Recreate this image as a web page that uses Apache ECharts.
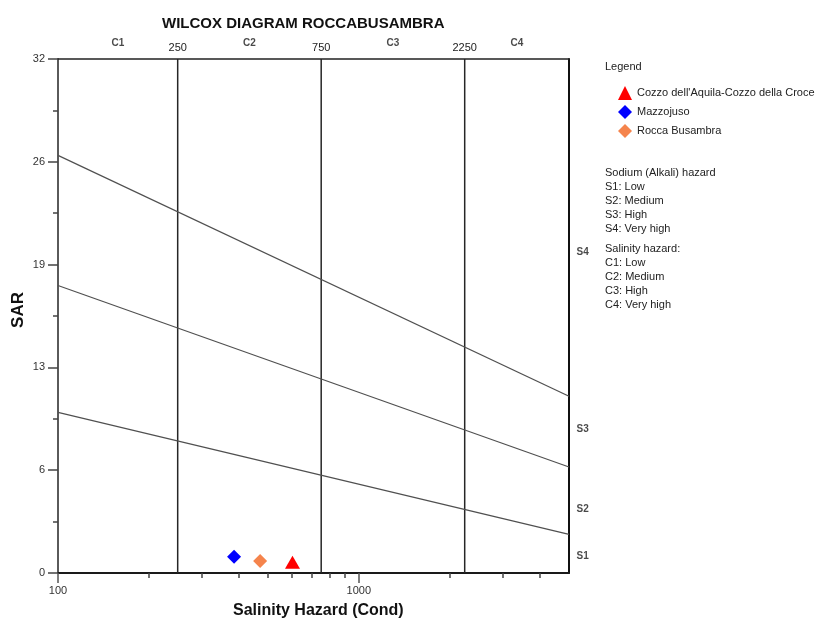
<!DOCTYPE html>
<html>
<head>
<meta charset="utf-8">
<title>Wilcox diagram Roccabusambra</title>
<script src="https://cdn.jsdelivr.net/npm/echarts@6/dist/echarts.min.js"></script>
<style>
  html, body { margin: 0; padding: 0; background: #fff; }
  #chart { width: 826px; height: 621px; }
</style>
</head>
<body>
<div id="chart"></div>
<script>
// Conductivity range of the diagram (log scale) and SAR range
const condRange = [100, 5000];
const sarRange = [0, 32];

// Salinity class boundaries and class names
const salinityBounds = [250, 750, 2250];
const salinityClasses = ['C1', 'C2', 'C3', 'C4'];

// Sodium hazard boundary lines: SAR at the left (100) and right (5000) ends
const sodiumLeftSar = [10, 17.9, 26];
const sodiumRightSar = [2.4, 6.6, 11];
const sodiumClasses = ['S1', 'S2', 'S3', 'S4'];
const sodiumLabelSar = [1.05, 4, 8.95, 19.95];

// Water samples
const sampleNames = ["Cozzo dell'Aquila-Cozzo della Croce", 'Mazzojuso', 'Rocca Busambra'];
const sampleCond = [602, 385, 470];
const sampleSar = [0.67, 1.01, 0.75];
const sampleColors = ['#ff0000', '#0000ff', '#f5844c'];
const sampleSymbols = ['triangle', 'diamond', 'diamond'];
const sampleSizes = [[15, 13], [14, 14], [14, 14]];

// Axis ticks
const majorCondTicks = [100, 1000];
const minorCondTicks = [200, 300, 400, 500, 600, 700, 800, 900, 2000, 3000, 4000];

const FONT = 'Liberation Sans, Arial, sans-serif';
const chart = echarts.init(document.getElementById('chart'));

// Class label positions: geometric centre of each salinity class
const edges = [condRange[0]].concat(salinityBounds, [condRange[1]]);
const classCentres = salinityClasses.map((c, i) => Math.sqrt(edges[i] * edges[i + 1]));

const series = [];

// Salinity class boundaries
salinityBounds.forEach(b => {
  series.push({
    type: 'line', silent: true, symbol: 'none', xAxisIndex: 0, yAxisIndex: 0,
    lineStyle: { color: '#262626', width: 1.5 },
    data: [[b, sarRange[0]], [b, sarRange[1]]]
  });
});

// Sodium hazard boundaries
sodiumLeftSar.forEach((s, i) => {
  series.push({
    type: 'line', silent: true, symbol: 'none', xAxisIndex: 0, yAxisIndex: 0,
    lineStyle: { color: '#505050', width: 1.2 },
    data: [[condRange[0], s], [condRange[1], sodiumRightSar[i]]]
  });
});

// S1..S4 labels beyond the right edge
series.push({
  type: 'scatter', silent: true, symbolSize: 1, clip: false,
  itemStyle: { color: 'rgba(0,0,0,0)' },
  label: { show: true, position: 'right', distance: 7, formatter: p => p.name,
           fontFamily: FONT, fontSize: 10, fontWeight: 'bold', color: '#1a1a1a' },
  data: sodiumClasses.map((n, i) => ({ name: n, value: [condRange[1], sodiumLabelSar[i]] }))
});

// C1..C4 labels above the plot
series.push({
  type: 'scatter', silent: true, symbolSize: 1, clip: false,
  itemStyle: { color: 'rgba(0,0,0,0)' },
  label: { show: true, position: 'top', distance: 10, formatter: p => p.name,
           fontFamily: FONT, fontSize: 10, fontWeight: 'bold', color: '#1a1a1a' },
  data: salinityClasses.map((n, i) => ({ name: n, value: [classCentres[i], sarRange[1]] }))
});

// Samples
sampleNames.forEach((n, i) => {
  series.push({
    name: n, type: 'scatter', symbol: sampleSymbols[i], symbolSize: sampleSizes[i],
    itemStyle: { color: sampleColors[i], opacity: 1 },
    data: [[sampleCond[i], sampleSar[i]]]
  });
});

const option = {
  animation: false,
  backgroundColor: '#ffffff',
  title: {
    text: 'WILCOX DIAGRAM ROCCABUSAMBRA', left: 157, top: 11,
    textStyle: { fontFamily: FONT, fontSize: 15, fontWeight: 'bold', color: '#111' }
  },
  grid: { left: 58, right: 257, top: 59, bottom: 48 },
  legend: {
    orient: 'vertical', left: 613, top: 81, itemWidth: 14, itemHeight: 14, itemGap: 5,
    data: sampleNames,
    textStyle: { fontFamily: FONT, fontSize: 11, color: '#222' }
  },
  xAxis: [
    {
      type: 'log', position: 'bottom', min: condRange[0], max: condRange[1],
      axisLine: { show: true, lineStyle: { color: '#1a1a1a', width: 2 } },
      axisTick: { show: true, length: 10, customValues: majorCondTicks, lineStyle: { color: '#555', width: 1.5 } },
      axisLabel: { show: true, customValues: majorCondTicks, margin: 12, formatter: v => String(v),
                   fontFamily: FONT, fontSize: 11, color: '#333' },
      splitLine: { show: false }, minorTick: { show: false }
    },
    {
      type: 'log', position: 'bottom', min: condRange[0], max: condRange[1],
      axisLine: { show: false },
      axisTick: { show: true, length: 5, customValues: minorCondTicks, lineStyle: { color: '#444', width: 1.5 } },
      axisLabel: { show: false }, splitLine: { show: false }
    },
    {
      type: 'log', position: 'top', min: condRange[0], max: condRange[1],
      axisLine: { show: true, lineStyle: { color: '#222', width: 1.5 } },
      axisTick: { show: false },
      axisLabel: { show: true, customValues: salinityBounds, margin: 6, formatter: v => String(v),
                   fontFamily: FONT, fontSize: 11, color: '#222' },
      splitLine: { show: false }
    }
  ],
  yAxis: [
    {
      type: 'value', position: 'left', min: sarRange[0], max: sarRange[1], interval: 6.4,
      axisLine: { show: true, lineStyle: { color: '#5a5a5a', width: 2 } },
      axisTick: { show: true, length: 10, lineStyle: { color: '#444', width: 1.5 } },
      minorTick: { show: true, splitNumber: 2, length: 5, lineStyle: { color: '#444', width: 1.5 } },
      axisLabel: { margin: 13, formatter: v => String(Math.round(v)),
                   fontFamily: FONT, fontSize: 11, color: '#333' },
      splitLine: { show: false }
    },
    {
      type: 'value', position: 'right', min: sarRange[0], max: sarRange[1],
      axisLine: { show: true, lineStyle: { color: '#111', width: 2 } },
      axisTick: { show: false }, axisLabel: { show: false }, splitLine: { show: false }
    }
  ],
  graphic: [
    { type: 'text', left: 322 - 89, top: 603,
      style: { text: 'Salinity Hazard (Cond)', font: 'bold 16px ' + FONT, fill: '#111' } },
    { type: 'text', x: 18, y: 310, rotation: Math.PI / 2,
      style: { text: 'SAR', font: 'bold 17px ' + FONT, fill: '#111', align: 'center', verticalAlign: 'middle' } },
    { type: 'text', left: 605, top: 61,
      style: { text: 'Legend', font: '11px ' + FONT, fill: '#222' } },
    { type: 'text', left: 605, top: 166,
      style: { text: 'Sodium (Alkali) hazard\nS1: Low\nS2: Medium\nS3: High\nS4: Very high',
               font: '11px ' + FONT, fill: '#222', lineHeight: 14 } },
    { type: 'text', left: 605, top: 242,
      style: { text: 'Salinity hazard:\nC1: Low\nC2: Medium\nC3: High\nC4: Very high',
               font: '11px ' + FONT, fill: '#222', lineHeight: 14 } }
  ],
  series: series
};

chart.setOption(option);
</script>
</body>
</html>
